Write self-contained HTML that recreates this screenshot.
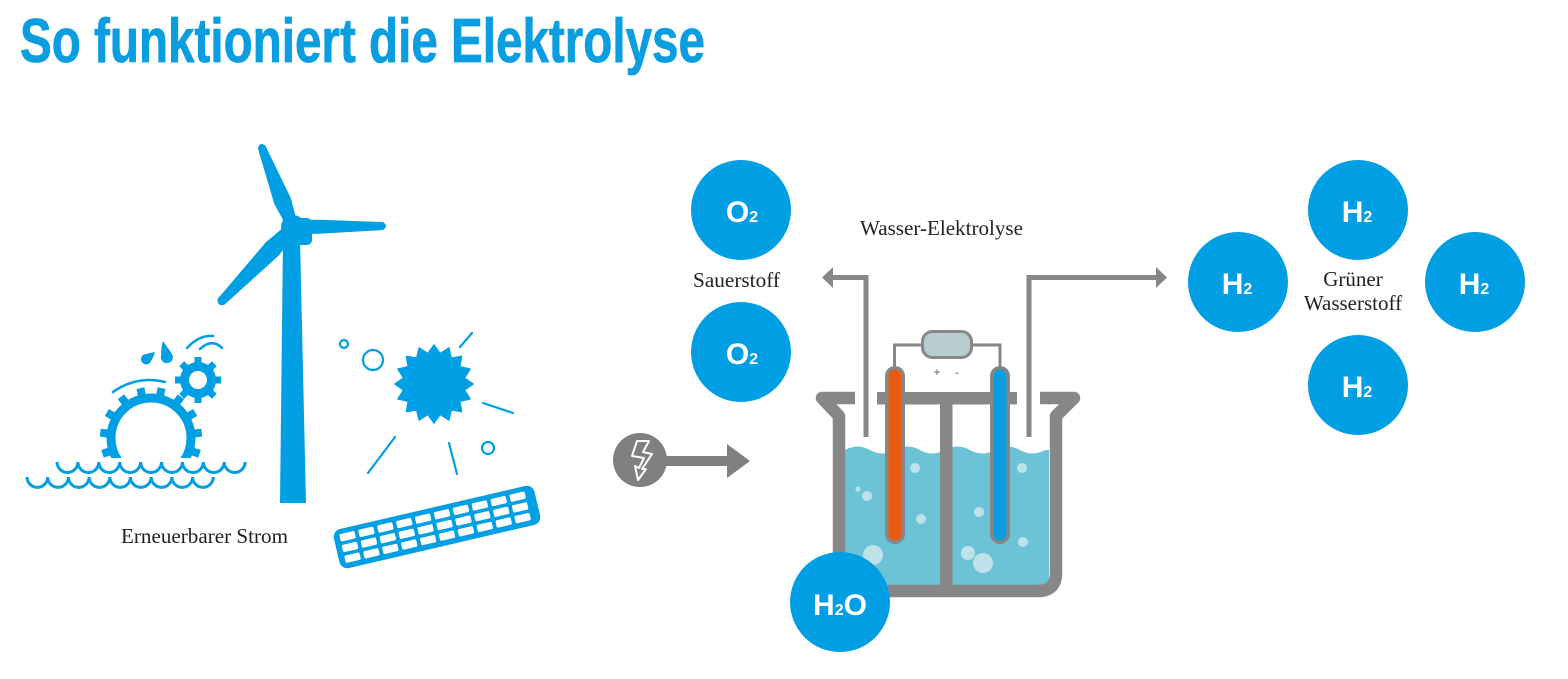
<!DOCTYPE html>
<html>
<head>
<meta charset="utf-8">
<style>
  html,body{margin:0;padding:0;background:#fff;}
  body{width:1568px;height:679px;overflow:hidden;}
  svg{display:block;}
  .lbl{font-family:"Liberation Serif",serif;font-size:21px;fill:#231f20;}
  .mol{font-family:"Liberation Sans",sans-serif;font-weight:bold;fill:#fff;font-size:30px;}
</style>
</head>
<body>
<svg width="1568" height="679" viewBox="0 0 1568 679" xmlns="http://www.w3.org/2000/svg">
  <defs>
    <clipPath id="gclip"><rect x="90" y="370" width="130" height="88"/></clipPath>
  </defs>

  <!-- Title -->
  <text x="20" y="62" textLength="685" lengthAdjust="spacingAndGlyphs" font-family="Liberation Sans, sans-serif" font-weight="bold" font-size="62" fill="#0a9ee0" stroke="#0a9ee0" stroke-width="0.8">So funktioniert die Elektrolyse</text>

  <!-- ============ LEFT: renewable sources ============ -->
  <g fill="#009ee2" stroke="none">
    <!-- wind turbine tower -->
    <polygon points="283,238 300,238 306,503 280,503"/>
    <!-- blades -->
    <g transform="translate(293,227) rotate(-111.4)">
      <path d="M6,-6 L28,-9 L86,-4 Q92,0 86,4 L28,8.5 L6,6 Z"/>
    </g>
    <g transform="translate(293,227) rotate(-0.6)">
      <path d="M6,-7 L26,-7 L90,-4 Q96,0 90,4 L26,7 L6,7 Z"/>
    </g>
    <g transform="translate(293,227) rotate(133.9)">
      <path d="M6,-6.5 L30,-9.5 L104,-4.5 Q110,0 104,4.5 L30,9 L6,6.5 Z"/>
    </g>
    <circle cx="293" cy="227" r="12"/>
    <rect x="296" y="218" width="16" height="27" rx="5"/>
  </g>

  <!-- water wheel: big gear -->
  <g clip-path="url(#gclip)" fill="#009ee2">
    <circle cx="151" cy="438" r="40" fill="none" stroke="#009ee2" stroke-width="9"/>
    <g transform="translate(151,438)">
      <rect x="-4" y="-51" width="8" height="10" transform="rotate(-132)"/>
      <rect x="-4" y="-51" width="8" height="10" transform="rotate(-108)"/>
      <rect x="-4" y="-51" width="8" height="10" transform="rotate(-84)"/>
      <rect x="-4" y="-51" width="8" height="10" transform="rotate(-60)"/>
      <rect x="-4" y="-51" width="8" height="10" transform="rotate(-36)"/>
      <rect x="-4" y="-51" width="8" height="10" transform="rotate(-12)"/>
      <rect x="-4" y="-51" width="8" height="10" transform="rotate(12)"/>
      <rect x="-4" y="-51" width="8" height="10" transform="rotate(36)"/>
      <rect x="-4" y="-51" width="8" height="10" transform="rotate(60)"/>
      <rect x="-4" y="-51" width="8" height="10" transform="rotate(84)"/>
      <rect x="-4" y="-51" width="8" height="10" transform="rotate(108)"/>
      <rect x="-4" y="-51" width="8" height="10" transform="rotate(132)"/>
    </g>
  </g>
  <!-- small gear -->
  <g fill="#009ee2">
    <circle cx="198" cy="380" r="13.5" fill="none" stroke="#009ee2" stroke-width="9"/>
    <g transform="translate(198,380)">
      <rect x="-3.5" y="-23" width="7" height="8"/>
      <rect x="-3.5" y="-23" width="7" height="8" transform="rotate(45)"/>
      <rect x="-3.5" y="-23" width="7" height="8" transform="rotate(90)"/>
      <rect x="-3.5" y="-23" width="7" height="8" transform="rotate(135)"/>
      <rect x="-3.5" y="-23" width="7" height="8" transform="rotate(180)"/>
      <rect x="-3.5" y="-23" width="7" height="8" transform="rotate(225)"/>
      <rect x="-3.5" y="-23" width="7" height="8" transform="rotate(270)"/>
      <rect x="-3.5" y="-23" width="7" height="8" transform="rotate(315)"/>
    </g>
    <!-- drops -->
    <path d="M155,352 Q153,358 151,361 A5.2,5.2 0 1 1 143,355 Q149,353 155,352 Z"/>
    <path d="M163,341 Q168,348 172,354 A6,6 0 1 1 161,356 Q161,348 163,341 Z"/>
  </g>
  <g fill="none" stroke="#009ee2" stroke-width="2.5" stroke-linecap="round">
    <path d="M113,392 Q137,375 165,382"/>
    <path d="M187,348 Q199,335 213,336"/>
    <path d="M200,349 Q212,338 222,348"/>
  </g>
  <!-- waves -->
  <g fill="none" stroke="#009ee2" stroke-width="3">
    <path d="M57,462 a10.4,10.4 0 0 0 20.9,0 a10.4,10.4 0 0 0 20.9,0 a10.4,10.4 0 0 0 20.9,0 a10.4,10.4 0 0 0 20.9,0 a10.4,10.4 0 0 0 20.9,0 a10.4,10.4 0 0 0 20.9,0 a10.4,10.4 0 0 0 20.9,0 a10.4,10.4 0 0 0 20.9,0 a10.4,10.4 0 0 0 20.9,0"/>
    <path d="M27,477 a10.3,10.3 0 0 0 20.7,0 a10.3,10.3 0 0 0 20.7,0 a10.3,10.3 0 0 0 20.7,0 a10.3,10.3 0 0 0 20.7,0 a10.3,10.3 0 0 0 20.7,0 a10.3,10.3 0 0 0 20.7,0 a10.3,10.3 0 0 0 20.7,0 a10.3,10.3 0 0 0 20.7,0 a10.3,10.3 0 0 0 20.7,0"/>
  </g>

  <!-- sun -->
  <g transform="translate(434,384)" fill="#009ee2" stroke="#009ee2" stroke-width="1.5" stroke-linejoin="round">
    <polygon points="39,0 30.4,6.05 36.03,14.92 25.78,17.22 27.58,27.58 17.22,25.78 14.92,36.03 6.05,30.4 0,39 -6.05,30.4 -14.92,36.03 -17.22,25.78 -27.58,27.58 -25.78,17.22 -36.03,14.92 -30.4,6.05 -39,0 -30.4,-6.05 -36.03,-14.92 -25.78,-17.22 -27.58,-27.58 -17.22,-25.78 -14.92,-36.03 -6.05,-30.4 0,-39 6.05,-30.4 14.92,-36.03 17.22,-25.78 27.58,-27.58 25.78,-17.22 36.03,-14.92 30.4,-6.05"/>
  </g>
  <g fill="none" stroke="#009ee2" stroke-width="2.2" stroke-linecap="round">
    <line x1="460" y1="347" x2="472" y2="333"/>
    <line x1="483" y1="403" x2="513" y2="413"/>
    <line x1="395" y1="437" x2="368" y2="473"/>
    <line x1="449" y1="443" x2="457" y2="474"/>
    <circle cx="344" cy="344" r="4"/>
    <circle cx="373" cy="360" r="10"/>
    <circle cx="488" cy="448" r="6"/>
  </g>

  <!-- solar panel -->
  <g transform="translate(437,527) rotate(-13.1)">
    <rect x="-103" y="-20" width="206" height="40" rx="8" fill="#009ee2"/>
    <g fill="#fff">
      <g id="row">
        <rect x="-97" y="-15" width="15.6" height="7.5" rx="1.5"/>
        <rect x="-77.6" y="-15" width="15.6" height="7.5" rx="1.5"/>
        <rect x="-58.2" y="-15" width="15.6" height="7.5" rx="1.5"/>
        <rect x="-38.8" y="-15" width="15.6" height="7.5" rx="1.5"/>
        <rect x="-19.4" y="-15" width="15.6" height="7.5" rx="1.5"/>
        <rect x="0" y="-15" width="15.6" height="7.5" rx="1.5"/>
        <rect x="19.4" y="-15" width="15.6" height="7.5" rx="1.5"/>
        <rect x="38.8" y="-15" width="15.6" height="7.5" rx="1.5"/>
        <rect x="58.2" y="-15" width="15.6" height="7.5" rx="1.5"/>
        <rect x="77.6" y="-15" width="15.6" height="7.5" rx="1.5"/>
      </g>
      <use href="#row" y="11"/>
      <use href="#row" y="22"/>
    </g>
  </g>

  <text class="lbl" x="121" y="543" textLength="167" lengthAdjust="spacingAndGlyphs">Erneuerbarer Strom</text>

  <!-- ============ power arrow ============ -->
  <circle cx="640" cy="460" r="27" fill="#808080"/>
  <rect x="664" y="456" width="66" height="10" fill="#808080"/>
  <polygon points="727,444 750,461 727,478" fill="#808080"/>
  <path d="M637,441 L649,441 L643,452 L652,454 L642,469 L646,469 L638,480 L635,466 L639,468 L644,458 L632,456 Z" fill="none" stroke="#fff" stroke-width="2" stroke-linejoin="round"/>

  <!-- ============ electrolysis beaker ============ -->
  <path d="M845,450 q12.5,-7 25,0 t25,0 t25,0 t25,0 t25,0 t25,0 t25,0 t25,0 L1049,450 L1049,587 L845,587 Z" fill="#6cc3d6"/>
  <g fill="#bde2ea">
    <circle cx="915" cy="468" r="5"/>
    <circle cx="858" cy="489" r="2.5"/>
    <circle cx="867" cy="496" r="5"/>
    <circle cx="921" cy="519" r="5"/>
    <circle cx="873" cy="555" r="10"/>
    <circle cx="1022" cy="468" r="5"/>
    <circle cx="979" cy="512" r="5"/>
    <circle cx="1023" cy="542" r="5"/>
    <circle cx="968" cy="553" r="7"/>
    <circle cx="983" cy="563" r="10"/>
  </g>
  <path d="M855,398 L822,398 L839,416 L839,573 Q839,591 857,591 L1038,591 Q1056,591 1056,573 L1056,416 L1074,398 L1040,398" fill="none" stroke="#878787" stroke-width="12.5" stroke-linejoin="round" stroke-linecap="butt"/>
  <rect x="877" y="392" width="140" height="12.5" fill="#878787"/>
  <rect x="940" y="392" width="12.5" height="194" fill="#878787"/>

  <g fill="none" stroke="#878787" stroke-width="5">
    <polyline points="866,437 866,277.5 832,277.5"/>
    <polyline points="1029,437 1029,277.5 1158,277.5"/>
  </g>
  <polygon points="833,267 822,277.5 833,288" fill="#878787"/>
  <polygon points="1156,267 1167,277.5 1156,288" fill="#878787"/>

  <g fill="none" stroke="#878787" stroke-width="3">
    <polyline points="894.5,368 894.5,345 923,345"/>
    <polyline points="971,345 1000,345 1000,368"/>
  </g>
  <rect x="922.5" y="331.5" width="49" height="26" rx="10" fill="#b8cbd0" stroke="#878787" stroke-width="3"/>
  <text x="937" y="376" font-family="Liberation Sans, sans-serif" font-size="11" font-weight="bold" fill="#878787" text-anchor="middle">+</text>
  <text x="957" y="376" font-family="Liberation Sans, sans-serif" font-size="11" font-weight="bold" fill="#878787" text-anchor="middle">-</text>

  <rect x="885" y="366" width="20" height="178" rx="10" fill="#878787"/>
  <rect x="888.5" y="369.5" width="13" height="171" rx="6.5" fill="#e85a10"/>
  <rect x="990" y="366" width="20" height="178" rx="10" fill="#878787"/>
  <rect x="993.5" y="369.5" width="13" height="171" rx="6.5" fill="#0a9ee0"/>

  <!-- ============ molecules ============ -->
  <g fill="#009ee2">
    <circle cx="741" cy="210" r="50"/>
    <circle cx="741" cy="352" r="50"/>
    <circle cx="1358" cy="210" r="50"/>
    <circle cx="1238" cy="282" r="50"/>
    <circle cx="1475" cy="282" r="50"/>
    <circle cx="1358" cy="385" r="50"/>
    <circle cx="840" cy="602" r="50"/>
  </g>
  <text class="mol" x="742" y="222" text-anchor="middle">O<tspan font-size="16">2</tspan></text>
  <text class="mol" x="742" y="364" text-anchor="middle">O<tspan font-size="16">2</tspan></text>
  <text class="mol" x="1357" y="222" text-anchor="middle">H<tspan font-size="16">2</tspan></text>
  <text class="mol" x="1237" y="294" text-anchor="middle">H<tspan font-size="16">2</tspan></text>
  <text class="mol" x="1474" y="294" text-anchor="middle">H<tspan font-size="16">2</tspan></text>
  <text class="mol" x="1357" y="397" text-anchor="middle">H<tspan font-size="16">2</tspan></text>
  <text class="mol" x="840" y="615" text-anchor="middle">H<tspan font-size="16">2</tspan>O</text>

  <text class="lbl" x="693" y="287" textLength="87" lengthAdjust="spacingAndGlyphs">Sauerstoff</text>
  <text class="lbl" x="860" y="235" textLength="163" lengthAdjust="spacingAndGlyphs">Wasser-Elektrolyse</text>
  <text class="lbl" x="1353" y="286" text-anchor="middle">Grüner</text>
  <text class="lbl" x="1353" y="310" text-anchor="middle">Wasserstoff</text>
</svg>
</body>
</html>
